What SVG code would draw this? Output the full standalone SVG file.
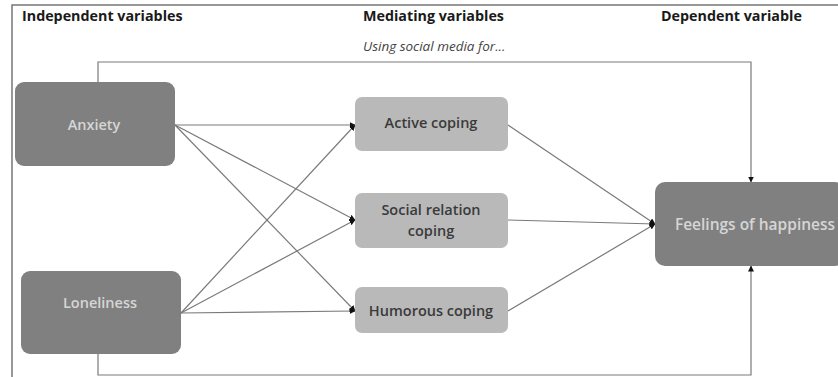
<svg xmlns="http://www.w3.org/2000/svg" width="838" height="377" viewBox="0 0 838 377">
<defs>
<style>
.head{font-family:"Open Sans","Liberation Sans",sans-serif;font-weight:700;font-size:14.3px;fill:#1a1a1a}
.sub{font-family:"Open Sans","Liberation Sans",sans-serif;font-style:italic;font-size:13.5px;fill:#444}
.dark{fill:#808080}
.light{fill:#b9b9b9}
.dt{font-family:"Open Sans","Liberation Sans",sans-serif;font-weight:600;font-size:14.5px;fill:#d6d6d6;text-anchor:middle}
.lt{font-family:"Open Sans","Liberation Sans",sans-serif;font-weight:600;font-size:14.5px;fill:#3a3a3a;text-anchor:middle}
.c{stroke:#7a7a7a;stroke-width:1.2;fill:none}
</style>
<marker id="ah" markerWidth="6" markerHeight="6" refX="5.5" refY="3" orient="auto" markerUnits="userSpaceOnUse">
<path d="M0,0 L6,3 L0,6 Z" fill="#111"/>
</marker>
</defs>
<rect width="838" height="377" fill="#fff"/>
<path d="M12,377 L12,5 L838,5" fill="none" stroke="#777" stroke-width="1.5"/>
<text class="head" x="22" y="21">Independent variables</text>
<text class="head" x="363" y="21">Mediating variables</text>
<text class="head" x="661" y="21">Dependent variable</text>
<text class="sub" x="363" y="51">Using social media for...</text>
<g id="connectors">
<path class="c" d="M98,83 L98,62 L751,62 L751,182" marker-end="url(#ah)"/>
<path class="c" d="M98,354 L98,375 L751,375 L751,266" marker-end="url(#ah)"/>
<path class="c" d="M175,125 L355,125" marker-end="url(#ah)"/>
<path class="c" d="M175,125 L355,220" marker-end="url(#ah)"/>
<path class="c" d="M175,125 L355,311" marker-end="url(#ah)"/>
<path class="c" d="M181,313 L355,125" marker-end="url(#ah)"/>
<path class="c" d="M181,313 L355,220" marker-end="url(#ah)"/>
<path class="c" d="M181,313 L355,311" marker-end="url(#ah)"/>
<path class="c" d="M508,125 L655,224" marker-end="url(#ah)"/>
<path class="c" d="M508,220 L655,224" marker-end="url(#ah)"/>
<path class="c" d="M508,311 L655,224" marker-end="url(#ah)"/>
</g>
<g id="anxiety">
<rect class="dark" x="15" y="82" width="160" height="84" rx="9"/>
<text class="dt" x="94" y="130">Anxiety</text>
</g>
<g id="loneliness">
<rect class="dark" x="21" y="271" width="160" height="83" rx="9"/>
<text class="dt" x="100" y="308">Loneliness</text>
</g>
<g id="active">
<rect class="light" x="355" y="97" width="153" height="54" rx="7"/>
<text class="lt" x="431" y="128">Active coping</text>
</g>
<g id="social">
<rect class="light" x="355" y="193" width="153" height="55" rx="7"/>
<text class="lt" x="431" y="215">Social relation</text>
<text class="lt" x="431" y="236">coping</text>
</g>
<g id="humorous">
<rect class="light" x="355" y="287" width="153" height="46" rx="7"/>
<text class="lt" x="431" y="316">Humorous coping</text>
</g>
<g id="happiness">
<rect class="dark" x="655" y="182" width="190" height="84" rx="10"/>
<text class="dt" x="755" y="230" style="font-size:15.5px">Feelings of happiness</text>
</g>
</svg>
